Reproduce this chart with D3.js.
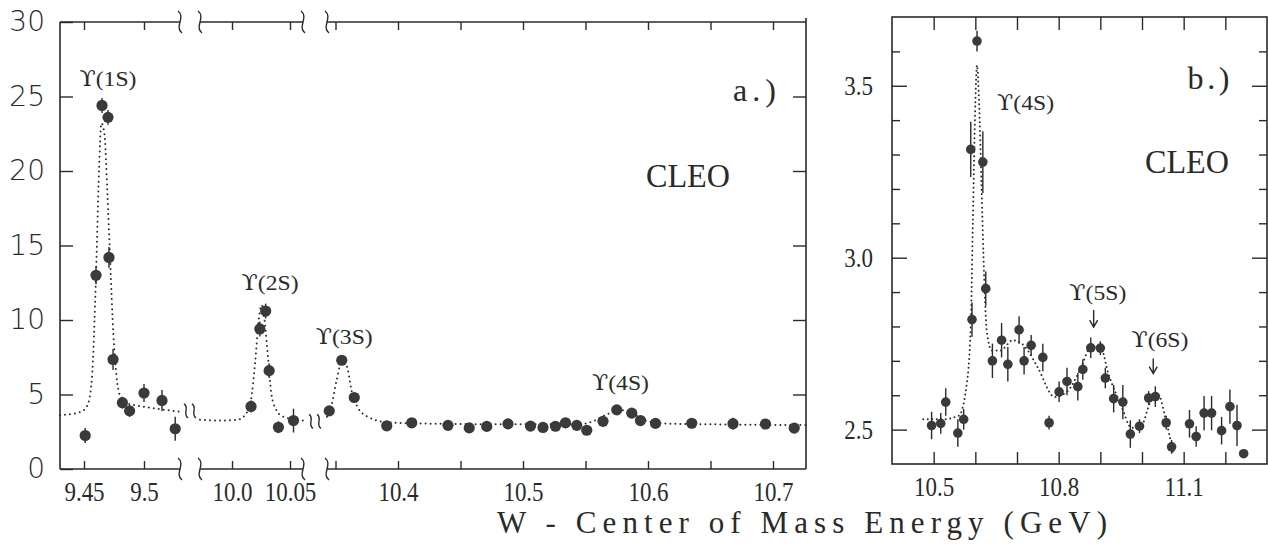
<!DOCTYPE html>
<html>
<head>
<meta charset="utf-8">
<script src="https://cdn.jsdelivr.net/npm/d3@7"></script>
<style>
  body { margin: 0; background: #fff; }
  svg { display: block; }
  .ax path.domain { display: none; }
  .ax line { stroke: #2a2a2a; stroke-width: 1.4; }
  .ax text { fill: #2a2a2a; }
</style>
</head>
<body>
<svg id="chart" width="1268" height="556"></svg>
<script>
// ---- panel a data: [W (GeV), cross section, error] ----
const seg1Data = [
  [9.451, 2.25, 0.5], [9.46, 13.0, 0.6], [9.465, 24.4, 0.5], [9.47, 23.6, 0.5],
  [9.4708, 14.2, 0.7], [9.4742, 7.35, 0.7], [9.482, 4.45, 0.4], [9.488, 3.9, 0.4],
  [9.5, 5.1, 0.6], [9.515, 4.6, 0.7], [9.526, 2.7, 0.8]
];
const seg2Data = [
  [10.0164, 4.2, 0.4], [10.024, 9.4, 0.5], [10.029, 10.6, 0.5],
  [10.032, 6.6, 0.5], [10.04, 2.8, 0.4], [10.053, 3.25, 0.8]
];
const seg3Data = [
  [10.345, 3.9, 0.25], [10.355, 7.3, 0.3], [10.365, 4.8, 0.3], [10.391, 2.9, 0.25],
  [10.411, 3.1, 0.25], [10.44, 2.93, 0.2], [10.457, 2.76, 0.2], [10.471, 2.86, 0.2],
  [10.488, 3.03, 0.25], [10.506, 2.88, 0.2], [10.516, 2.79, 0.2], [10.526, 2.87, 0.2],
  [10.534, 3.1, 0.2], [10.543, 2.93, 0.2], [10.551, 2.6, 0.2], [10.564, 3.2, 0.3],
  [10.575, 3.97, 0.25], [10.587, 3.75, 0.25], [10.594, 3.25, 0.25], [10.606, 3.06, 0.2],
  [10.635, 3.07, 0.2], [10.668, 3.04, 0.4], [10.694, 3.02, 0.2], [10.717, 2.75, 0.2]
];

// fit curves (dotted)
const fit1 = [
  [9.43, 3.6], [9.44, 3.7], [9.448, 3.85], [9.453, 4.3], [9.4565, 6], [9.46, 13],
  [9.4625, 20], [9.4645, 23.2], [9.467, 22.5], [9.4695, 18.5], [9.4717, 14.2],
  [9.4745, 9], [9.477, 6.3], [9.48, 4.9], [9.485, 4.45], [9.495, 4.25], [9.51, 4.05], [9.53, 3.85]
];
const fit2 = [
  [9.9724, 3.3], [9.99, 3.25], [10.005, 3.3], [10.011, 3.6], [10.016, 4.5], [10.02, 7.2],
  [10.023, 10.0], [10.0255, 11.0], [10.028, 10.0], [10.031, 7.5], [10.034, 5.0],
  [10.038, 4.0], [10.043, 3.55], [10.052, 3.35], [10.0612, 3.25]
];
const fit3 = [
  [10.3432, 3.5], [10.346, 4.0], [10.351, 6.0], [10.355, 7.2], [10.359, 6.9], [10.363, 5.2],
  [10.368, 4.1], [10.376, 3.5], [10.39, 3.15], [10.42, 3.05], [10.5, 3.0], [10.545, 3.0],
  [10.556, 3.2], [10.567, 3.65], [10.578, 3.95], [10.589, 3.65], [10.6, 3.2], [10.615, 3.05],
  [10.65, 3.0], [10.7264, 2.95]
];

// ---- panel b data ----
const bData = [
  [10.495, 2.512, 0.04], [10.517, 2.518, 0.03], [10.529, 2.58, 0.04], [10.558, 2.49, 0.04],
  [10.572, 2.53, 0.03], [10.592, 2.82, 0.05], [10.589, 3.315, 0.08], [10.604, 3.63, 0.03],
  [10.618, 3.278, 0.09], [10.625, 2.91, 0.05], [10.641, 2.70, 0.05], [10.663, 2.76, 0.05],
  [10.678, 2.69, 0.05], [10.705, 2.79, 0.04], [10.717, 2.70, 0.04], [10.734, 2.745, 0.03],
  [10.762, 2.71, 0.04], [10.777, 2.52, 0.02], [10.801, 2.61, 0.03], [10.82, 2.64, 0.04],
  [10.846, 2.625, 0.04], [10.858, 2.675, 0.03], [10.877, 2.738, 0.03], [10.9, 2.737, 0.02],
  [10.912, 2.65, 0.03], [10.932, 2.59, 0.04], [10.954, 2.58, 0.05], [10.972, 2.487, 0.04],
  [10.994, 2.51, 0.02], [11.016, 2.592, 0.02], [11.032, 2.596, 0.03], [11.058, 2.52, 0.02],
  [11.071, 2.45, 0.02], [11.114, 2.517, 0.04], [11.13, 2.48, 0.03], [11.149, 2.548, 0.05],
  [11.167, 2.548, 0.05], [11.191, 2.497, 0.04], [11.211, 2.567, 0.05], [11.228, 2.512, 0.06],
  [11.244, 2.43, 0.0]
];
const fitB = [
  [10.475, 2.53], [10.52, 2.53], [10.56, 2.54], [10.578, 2.62], [10.589, 2.8], [10.594, 3.1],
  [10.6, 3.45], [10.604, 3.56], [10.609, 3.45], [10.615, 3.2], [10.621, 2.95], [10.628, 2.78],
  [10.64, 2.73], [10.66, 2.73], [10.69, 2.76], [10.72, 2.74], [10.75, 2.68], [10.79, 2.595],
  [10.82, 2.61], [10.85, 2.67], [10.878, 2.74], [10.9, 2.74], [10.92, 2.66], [10.95, 2.57],
  [10.975, 2.505], [11.0, 2.515], [11.02, 2.58], [11.04, 2.6], [11.055, 2.54], [11.075, 2.43]
];

// ticks
const aYTicks = [0, 5, 10, 15, 20, 25, 30];
const aRightTicks = [5, 10, 15, 20, 25];
const seg1Ticks = [9.45, 9.5];
const seg2Ticks = [10.0, 10.05];
const seg3Ticks = [10.35, 10.4, 10.45, 10.5, 10.55, 10.6, 10.65, 10.7];
const seg3Labels = [10.4, 10.5, 10.6, 10.7];
const bYMajor = [2.5, 3.0, 3.5];
const bYMinor = [2.6, 2.7, 2.8, 2.9, 3.1, 3.2, 3.3, 3.4, 3.6];
const bXTicks = [10.5, 10.6, 10.7, 10.8, 10.9, 11.0, 11.1, 11.2];
const bXLabels = [10.5, 10.8, 11.1];

// annotations [state, segment, x, y]
const aLabels = [["1S", 1, 9.47, 25.7], ["2S", 2, 10.0328, 12.0],
                 ["3S", 3, 10.357, 8.4], ["4S", 3, 10.578, 5.3]];
const bLabels = [["4S", 10.7205, 3.43], ["5S", 10.894, 2.876], ["6S", 11.043, 2.74]];
const bArrows = [[10.884, 2.848, 2.798], [11.027, 2.707, 2.663]];

const ink = "#2a2a2a";
const serif = "'Liberation Serif', 'DejaVu Serif', serif";
const svg = d3.select("#chart");

// squeeze text horizontally (the original uses condensed lettering)
function condense(sel, f) {
  sel.each(function () {
    if (!this.textContent) return;
    const w = this.getComputedTextLength();
    d3.select(this).attr("textLength", w * f).attr("lengthAdjust", "spacingAndGlyphs");
  });
}

function upsilon(g, state, x, y, w) {
  const t = g.append("text").attr("x", x).attr("y", y).attr("text-anchor", "middle")
    .attr("font-family", serif).attr("font-size", 22).attr("fill", ink)
    .attr("textLength", w).attr("lengthAdjust", "spacingAndGlyphs");
  t.append("tspan").attr("font-family", "'DejaVu Serif', serif").text("ϒ");
  t.append("tspan").text(`(${state})`);
}

// ---- panel a geometry ----
const aTop = 22, aBot = 469, aLeft = 60, aRight = 806;
const yA = d3.scaleLinear().domain([0, 30]).range([aBot, aTop]);
const segs = [
  { x: d3.scaleLinear().domain([9.43, 9.53]).range([aLeft, 180]), data: seg1Data, fit: fit1,
    ticks: seg1Ticks, labels: seg1Ticks, fmt: d3.format(".2~f") },
  { x: d3.scaleLinear().domain([9.9724, 10.0612]).range([200, 303]), data: seg2Data, fit: fit2,
    ticks: seg2Ticks, labels: seg2Ticks, fmt: (d) => (d === 10 ? "10.0" : "10.05") },
  { x: d3.scaleLinear().domain([10.3432, 10.7264]).range([327, aRight]), data: seg3Data, fit: fit3,
    ticks: seg3Ticks, labels: seg3Labels, fmt: d3.format(".1f") },
];

const gA = svg.append("g");

// frame: left/right full lines, top/bottom broken
gA.append("line").attr("x1", aLeft).attr("x2", aLeft).attr("y1", aTop).attr("y2", aBot)
  .attr("stroke", ink).attr("stroke-width", 1.6);
gA.append("line").attr("x1", aRight).attr("x2", aRight).attr("y1", aTop - 4).attr("y2", aBot)
  .attr("stroke", ink).attr("stroke-width", 1.6);

function brace(x, y) {
  return `M${x - 2},${y - 11} C${x + 6},${y - 5} ${x - 6},${y + 5} ${x + 2},${y + 11}`;
}

segs.forEach((s, i) => {
  const [r0, r1] = s.x.range();
  [aTop, aBot].forEach((yy) => {
    gA.append("line").attr("x1", r0).attr("x2", r1).attr("y1", yy).attr("y2", yy)
      .attr("stroke", ink).attr("stroke-width", 1.6);
    if (i > 0) gA.append("path").attr("d", brace(r0, yy)).attr("fill", "none").attr("stroke", ink).attr("stroke-width", 1.4);
    if (i < segs.length - 1) gA.append("path").attr("d", brace(r1, yy)).attr("fill", "none").attr("stroke", ink).attr("stroke-width", 1.4);
  });

  gA.append("g").attr("class", "ax").attr("transform", `translate(0,${aBot})`)
    .call(d3.axisBottom(s.x).tickValues(s.ticks).tickSize(-8).tickPadding(13)
      .tickFormat((d) => (s.labels.some((l) => Math.abs(l - d) < 1e-9) ? s.fmt(d) : "")))
    .selectAll("text")
    .attr("font-family", serif)
    .attr("font-size", 27)
    .call(condense, 0.85);
  gA.append("g").attr("class", "ax").attr("transform", `translate(0,${aTop})`)
    .call(d3.axisTop(s.x).tickValues(s.ticks).tickSize(-8).tickFormat(""));

  // fit curve
  const line = d3.line().x((d) => s.x(d[0])).y((d) => yA(d[1])).curve(d3.curveMonotoneX);
  gA.append("path").datum(s.fit).attr("d", line).attr("fill", "none")
    .attr("stroke", ink).attr("stroke-width", 2).attr("stroke-linecap", "round")
    .attr("stroke-dasharray", "0 5");

  // error bars + points
  const pts = gA.append("g");
  pts.selectAll("line").data(s.data).join("line")
    .attr("x1", (d) => s.x(d[0])).attr("x2", (d) => s.x(d[0]))
    .attr("y1", (d) => yA(d[1] - d[2])).attr("y2", (d) => yA(d[1] + d[2]))
    .attr("stroke", ink).attr("stroke-width", 1.4);
  pts.selectAll("circle").data(s.data).join("circle")
    .attr("cx", (d) => s.x(d[0])).attr("cy", (d) => yA(d[1])).attr("r", 5.6)
    .attr("fill", "#3a3a3a");
});

// squiggle breaks in the fit between segments
function squiggle(x, y) {
  let p = "";
  [-4, 4].forEach((o) => {
    p += `M${x + o - 2},${y - 7} C${x + o + 4},${y - 3} ${x + o - 4},${y + 3} ${x + o + 2},${y + 7} `;
  });
  return p;
}
[[segs[0], segs[1], 3.9], [segs[1], segs[2], 3.2]].forEach(([s0, s1, v]) => {
  const xm = (s0.x.range()[1] + s1.x.range()[0]) / 2;
  gA.append("path").attr("d", squiggle(xm, yA(v))).attr("fill", "none")
    .attr("stroke", ink).attr("stroke-width", 1.4);
});

// y axes panel a
gA.append("g").attr("class", "ax").attr("transform", `translate(${aLeft},0)`)
  .call(d3.axisLeft(yA).tickValues(aYTicks).tickSize(-13).tickPadding(15))
  .selectAll("text")
  .attr("font-family", "'DejaVu Sans', sans-serif").attr("font-weight", 300)
  .attr("font-size", 28).attr("fill", "#333");
gA.append("g").attr("class", "ax").attr("transform", `translate(${aRight},0)`)
  .call(d3.axisRight(yA).tickValues(aRightTicks).tickSize(-13).tickFormat(""));

// labels panel a
aLabels.forEach(([t, si, x, y]) => upsilon(gA, t, segs[si - 1].x(x), yA(y), 57));
gA.append("text").attr("x", segs[2].x(10.7024)).attr("y", yA(24.7)).attr("text-anchor", "end")
  .attr("font-family", serif).attr("font-size", 32).attr("fill", ink)
  .attr("textLength", 43).attr("lengthAdjust", "spacing").text("a.)");
gA.append("text").attr("x", segs[2].x(10.632)).attr("y", yA(18.9)).attr("text-anchor", "middle")
  .attr("font-family", serif).attr("font-size", 34).attr("fill", ink)
  .attr("textLength", 84).attr("lengthAdjust", "spacingAndGlyphs").text("CLEO");

// ---- panel b ----
const bTop = 17, bBot = 464, bLeft = 892, bRight = 1267;
const xB = d3.scaleLinear().domain([10.4, 11.3]).range([bLeft, bRight]);
const yB = d3.scaleLinear().domain([2.4, 3.7]).range([bBot, bTop]);
const gB = svg.append("g");

gB.append("rect").attr("x", bLeft).attr("y", bTop).attr("width", bRight - bLeft).attr("height", bBot - bTop)
  .attr("fill", "none").attr("stroke", ink).attr("stroke-width", 1.6);

gB.append("g").attr("class", "ax").attr("transform", `translate(${bLeft},0)`)
  .call(d3.axisLeft(yB).tickValues(bYMinor).tickSize(-8).tickFormat(""));
gB.append("g").attr("class", "ax").attr("transform", `translate(${bLeft},0)`)
  .call(d3.axisLeft(yB).tickValues(bYMajor).tickSize(-15).tickPadding(19).tickFormat(d3.format(".1f")))
  .selectAll("text").attr("font-family", serif).attr("font-size", 27).call(condense, 0.85);
gB.append("g").attr("class", "ax").attr("transform", `translate(${bRight},0)`)
  .call(d3.axisRight(yB).tickValues(bYMinor).tickSize(-8).tickFormat(""));
gB.append("g").attr("class", "ax").attr("transform", `translate(${bRight},0)`)
  .call(d3.axisRight(yB).tickValues(bYMajor).tickSize(-15).tickFormat(""));
gB.append("g").attr("class", "ax").attr("transform", `translate(0,${bBot})`)
  .call(d3.axisBottom(xB).tickValues(bXTicks).tickSize(-12).tickPadding(13)
    .tickFormat((d) => (bXLabels.some((l) => Math.abs(l - d) < 1e-9) ? d3.format(".1f")(d) : "")))
  .selectAll("text").attr("font-family", serif).attr("font-size", 27).call(condense, 0.85);
gB.append("g").attr("class", "ax").attr("transform", `translate(0,${bTop})`)
  .call(d3.axisTop(xB).tickValues(bXTicks).tickSize(-13).tickFormat(""));

const lineB = d3.line().x((d) => xB(d[0])).y((d) => yB(d[1])).curve(d3.curveMonotoneX);
gB.append("path").datum(fitB).attr("d", lineB).attr("fill", "none")
  .attr("stroke", ink).attr("stroke-width", 2).attr("stroke-linecap", "round")
  .attr("stroke-dasharray", "0 4.5");

gB.selectAll("line.err").data(bData).join("line").attr("class", "err")
  .attr("x1", (d) => xB(d[0])).attr("x2", (d) => xB(d[0]))
  .attr("y1", (d) => yB(d[1] - d[2])).attr("y2", (d) => yB(d[1] + d[2]))
  .attr("stroke", ink).attr("stroke-width", 1.4);
gB.selectAll("circle").data(bData).join("circle")
  .attr("cx", (d) => xB(d[0])).attr("cy", (d) => yB(d[1])).attr("r", 4.8)
  .attr("fill", "#3a3a3a");

bLabels.forEach(([t, x, y]) => upsilon(gB, t, xB(x), yB(y), 57));
bArrows.forEach(([x, y0, y1]) => {
  const px = xB(x), p0 = yB(y0), p1 = yB(y1);
  gB.append("path").attr("d", `M${px},${p0} L${px},${p1} M${px - 4},${p1 - 7} L${px},${p1} L${px + 4},${p1 - 7}`)
    .attr("fill", "none").attr("stroke", ink).attr("stroke-width", 1.4);
});
gB.append("text").attr("x", xB(11.21)).attr("y", yB(3.49)).attr("text-anchor", "end")
  .attr("font-family", serif).attr("font-size", 32).attr("fill", ink)
  .attr("textLength", 42).attr("lengthAdjust", "spacing").text("b.)");
gB.append("text").attr("x", xB(11.108)).attr("y", yB(3.246)).attr("text-anchor", "middle")
  .attr("font-family", serif).attr("font-size", 34).attr("fill", ink)
  .attr("textLength", 84).attr("lengthAdjust", "spacingAndGlyphs").text("CLEO");

// shared x title
svg.append("text").attr("x", 497).attr("y", 533)
  .attr("font-family", serif).attr("font-size", 31)
  .attr("textLength", 610).attr("lengthAdjust", "spacing")
  .attr("fill", ink).text("W - Center of Mass Energy (GeV)");
</script>
</body>
</html>
